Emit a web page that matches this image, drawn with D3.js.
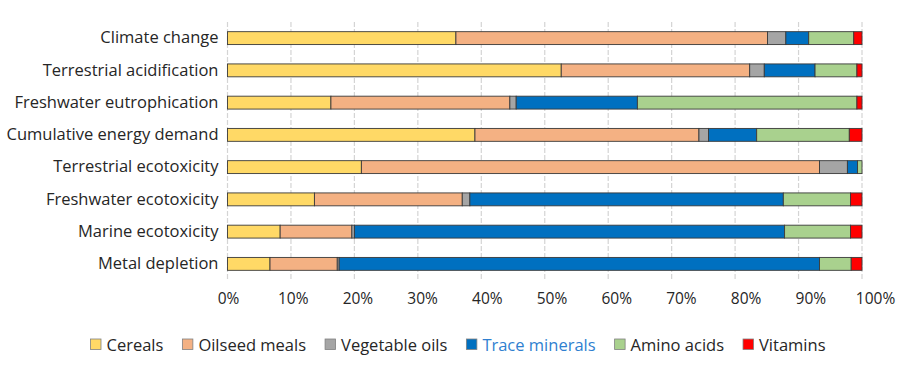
<!DOCTYPE html>
<html>
<head>
<meta charset="utf-8">
<script src="https://cdn.jsdelivr.net/npm/d3@7"></script>
<style>
  html, body { margin: 0; padding: 0; background: #fff; }
  svg { display: block; }
  text { font-family: "Open Sans", "DejaVu Sans", sans-serif; fill: #262626; }
</style>
</head>
<body>
<svg id="chart" width="900" height="372"></svg>
<script>
const categories = ["Climate change", "Terrestrial acidification", "Freshwater eutrophication",
  "Cumulative energy demand", "Terrestrial ecotoxicity", "Freshwater ecotoxicity",
  "Marine ecotoxicity", "Metal depletion"];
const seriesNames = ["Cereals", "Oilseed meals", "Vegetable oils", "Trace minerals", "Amino acids", "Vitamins"];
const cereals       = [36.0, 52.6, 16.3, 39.0, 21.1, 13.7,  8.3,  6.7];
const oilseedMeals  = [49.1, 29.7, 28.2, 35.3, 72.2, 23.3, 11.3, 10.6];
const vegetableOils = [ 2.9,  2.3,  1.0,  1.5,  4.4,  1.2,  0.4,  0.3];
const traceMinerals = [ 3.6,  8.0, 19.1,  7.6,  1.6, 49.4, 67.8, 75.7];
const aminoAcids    = [ 7.1,  6.6, 34.6, 14.6,  0.7, 10.6, 10.4,  5.0];
const vitamins      = [ 1.3,  0.8,  0.8,  2.0,  0.0,  1.8,  1.8,  1.7];
const tickValues = [0, 10, 20, 30, 40, 50, 60, 70, 80, 90, 100];
const colors = ["#FFD966", "#F4B183", "#A5A5A5", "#0070C0", "#A9D18E", "#FF0000"];

(function () {
const seriesValues = [cereals, oilseedMeals, vegetableOils, traceMinerals, aminoAcids, vitamins];
const rows = categories.map((c, i) => {
  const r = { category: c };
  seriesNames.forEach((s, j) => r[s] = seriesValues[j][i]);
  return r;
});
const stacked = d3.stack().keys(seriesNames)(rows);

const svg = d3.select("#chart");
const mLeft = 227.5, mRight = 862, mTop = 22, mBottom = 280;

const x = d3.scaleLinear().domain([0, 100]).range([mLeft, mRight]);
// tick labels in the reference drift slightly right of their gridlines
const xLabel = d3.scaleLinear().domain([0, 100]).range([mLeft + 0.5, mRight + 13]);
const y = d3.scaleBand().domain(categories).range([mTop, mBottom]).paddingInner(0.6).paddingOuter(0.3);
const color = d3.scaleOrdinal().domain(seriesNames).range(colors);

// gridlines
svg.append("g").selectAll("line").data(tickValues).join("line")
  .attr("x1", d => x(d)).attr("x2", d => x(d))
  .attr("y1", mTop).attr("y2", mBottom)
  .attr("stroke", "#d4d4d4").attr("stroke-width", 1.2)
  .attr("stroke-dasharray", "5,2");

// bars
svg.append("g").selectAll("g").data(stacked).join("g")
  .attr("fill", d => color(d.key))
  .selectAll("rect").data(d => d.filter(p => p[1] - p[0] > 0)).join("rect")
  .attr("x", d => x(d[0]))
  .attr("width", d => x(d[1]) - x(d[0]))
  .attr("y", d => y(d.data.category))
  .attr("height", y.bandwidth())
  .attr("stroke", "#3a3a3a").attr("stroke-width", 0.9);

// y labels
const yAxis = d3.axisLeft(y).tickSize(0).tickPadding(9);
const gy = svg.append("g").attr("transform", `translate(${mLeft},0)`).call(yAxis);
gy.select(".domain").remove();
gy.attr("font-family", null);
gy.selectAll("text").attr("font-size", 16.5).attr("fill", "#262626");

// x labels
const xAxis = d3.axisBottom(xLabel).tickValues(tickValues).tickSize(0).tickPadding(0).tickFormat(d => d + "%");
const gx = svg.append("g").attr("transform", `translate(0,${mBottom + 13})`).call(xAxis);
gx.select(".domain").remove();
gx.attr("font-family", null);
gx.selectAll("text").attr("font-size", 15.5).attr("fill", "#262626");

// legend
const legend = svg.append("g").attr("transform", "translate(90.5,345)");
let cx = 0;
seriesNames.forEach((s, i) => {
  const g = legend.append("g").attr("transform", `translate(${cx},0)`);
  g.append("rect").attr("x", 0).attr("y", -6).attr("width", 10.5).attr("height", 10.5)
    .attr("fill", colors[i]).attr("stroke", "#808080").attr("stroke-width", 0.8);
  const t = g.append("text").attr("x", 16).attr("y", 0).attr("dy", "0.35em")
    .attr("font-size", 16.5)
    .style("fill", s === "Trace minerals" ? "#2F7FD0" : "#262626")
    .text(s);
  cx += 16 + t.node().getComputedTextLength() + 19;
});
})();
</script>
</body>
</html>
